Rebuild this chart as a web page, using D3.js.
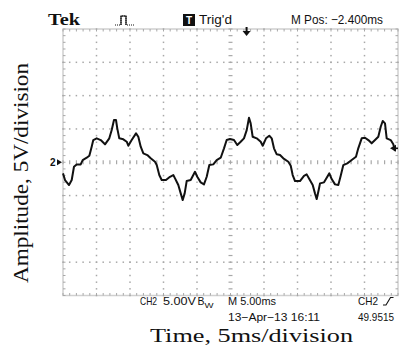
<!DOCTYPE html>
<html><head><meta charset="utf-8">
<script src="https://cdn.jsdelivr.net/npm/d3@7"></script>
<style>html,body{margin:0;padding:0;background:#fff;}svg{display:block;}</style>
</head><body>
<svg id="c" width="399" height="358"></svg>
<script>
// time in ms, amplitude in volts (5 V/div, 5 ms/div)
const timeMs = [0.00,0.30,0.90,1.30,1.64,2.04,2.64,2.94,3.54,3.93,4.28,4.52,5.03,5.63,6.27,6.91,7.27,7.61,7.91,8.10,8.40,9.00,9.51,9.75,10.25,10.90,11.24,11.60,11.99,12.58,13.09,13.73,13.99,14.37,14.73,15.37,15.97,16.46,16.72,16.97,17.21,17.57,17.87,18.16,18.46,19.06,19.45,19.70,20.04,20.55,21.04,21.45,21.84,22.43,22.94,23.54,24.03,24.43,24.93,25.52,26.01,26.52,27.01,27.42,27.76,28.01,28.31,28.91,29.51,29.81,30.30,30.79,31.15,31.49,31.90,32.39,32.88,33.63,33.99,34.28,34.63,35.37,35.97,36.37,36.76,37.27,37.61,37.87,38.16,38.36,38.96,39.36,39.75,40.10,40.60,41.09,41.45,41.84,42.43,43.09,43.73,44.07,44.58,45.07,45.57,46.07,46.57,47.06,47.42,47.72,48.06,48.31,48.91,49.30,49.55];
const voltsV = [-1.67,-2.67,-3.42,-2.67,-0.68,-0.32,-0.32,0.33,0.68,0.98,2.33,3.33,3.59,3.33,2.69,3.59,4.83,6.34,6.34,5.09,3.59,3.44,3.08,2.48,3.33,4.34,3.83,2.33,1.34,1.08,0.59,0.08,-0.42,-1.92,-2.67,-2.67,-2.18,-1.92,-2.42,-2.93,-3.42,-4.67,-5.68,-4.67,-2.82,-2.67,-1.92,-1.43,-2.18,-3.02,-3.32,-2.18,-0.42,-0.32,0.33,0.68,2.09,3.33,3.48,3.33,2.58,3.08,3.59,4.83,6.68,5.84,3.83,3.59,3.08,2.48,3.59,3.98,3.59,2.09,1.19,1.08,0.59,0.08,-0.53,-1.92,-2.82,-2.82,-2.03,-1.82,-2.52,-3.42,-4.67,-5.53,-4.17,-3.17,-3.02,-2.33,-1.67,-2.52,-3.32,-3.42,-2.03,-0.42,-0.17,0.33,0.83,2.09,3.59,3.68,3.33,2.84,3.33,3.83,5.33,6.19,5.84,3.59,3.33,2.69,1.68];
const timeDomain = [0, 50];
const voltDomain = [-20, 20];
const divMs = 5, divV = 5;
const headerTexts = {tek: "Tek", trig: "Trig'd", mpos: "M Pos: \u22122.400ms"};
const footerRow1 = {ch: "CH2", scale: "5.00V", mscale: "M 5.00ms", trigCh: "CH2"};
const footerRow2 = {date: "13\u2212Apr\u221213 16:11", freq: "49.9515"};
const xLabel = "Time, 5ms/division";
const yLabel = "Amplitude, 5V/division";

const svg = d3.select("#c");
const x = d3.scaleLinear().domain(timeDomain).range([63, 398]);
const y = d3.scaleLinear().domain(voltDomain).range([295.5, 29]);
const gridCol = "#a8a8a8";

// frame
svg.append("rect").attr("x", x(0)).attr("y", y(20)).attr("width", x(50)-x(0)).attr("height", y(-20)-y(20))
  .attr("fill","none").attr("stroke","#d0d0d0").attr("stroke-width",1.5);

const g = svg.append("g");
const majorT = d3.range(timeDomain[0], timeDomain[1]+0.001, divMs);
const majorV = d3.range(voltDomain[0], voltDomain[1]+0.001, divV);
const minorT = d3.range(timeDomain[0], timeDomain[1]+0.001, 1);
const minorV = d3.range(voltDomain[0], voltDomain[1]+0.001, 1);

// dots on horizontal grid lines
majorV.slice(1,-1).forEach(v => {
  if (v === 0) return;
  minorT.forEach(t => g.append("rect").attr("x", x(t)-0.75).attr("y", y(v)-0.75).attr("width",1.5).attr("height",1.5).attr("fill",gridCol));
});
// dots on vertical grid lines
majorT.slice(1,-1).forEach(t => {
  if (t === 25) return;
  minorV.forEach(v => g.append("rect").attr("x", x(t)-0.75).attr("y", y(v)-0.75).attr("width",1.5).attr("height",1.5).attr("fill",gridCol));
});
// center horizontal line: vertical ticks
minorT.forEach(t => g.append("line").attr("x1",x(t)).attr("x2",x(t)).attr("y1",y(0)-2).attr("y2",y(0)+2).attr("stroke",gridCol).attr("stroke-width",1.2));
// center vertical line: horizontal ticks
minorV.forEach(v => g.append("line").attr("x1",x(25)-2).attr("x2",x(25)+2).attr("y1",y(v)).attr("y2",y(v)).attr("stroke",gridCol).attr("stroke-width",1.2));
// frame ticks
minorT.forEach(t => {
  g.append("line").attr("x1",x(t)).attr("x2",x(t)).attr("y1",y(20)).attr("y2",y(20)+2.5).attr("stroke",gridCol).attr("stroke-width",1);
  g.append("line").attr("x1",x(t)).attr("x2",x(t)).attr("y1",y(-20)).attr("y2",y(-20)-2.5).attr("stroke",gridCol).attr("stroke-width",1);
});
minorV.forEach(v => {
  g.append("line").attr("x1",x(0)).attr("x2",x(0)+2.5).attr("y1",y(v)).attr("y2",y(v)).attr("stroke",gridCol).attr("stroke-width",1);
  g.append("line").attr("x1",x(50)).attr("x2",x(50)-2.5).attr("y1",y(v)).attr("y2",y(v)).attr("stroke",gridCol).attr("stroke-width",1);
});

// waveform
const pts = timeMs.map((t,i) => [t, voltsV[i]]);
svg.append("path").datum(pts)
  .attr("d", d3.line().x(d => x(d[0])).y(d => y(d[1])))
  .attr("fill","none").attr("stroke","#111").attr("stroke-width",2).attr("stroke-linejoin","round");

// markers
const mk = svg.append("g").attr("fill","#111");
const tx = x(27.4);
mk.append("rect").attr("x", tx-1).attr("y", y(20)-2).attr("width",2).attr("height",4);
mk.append("path").attr("d", `M${tx-4},${y(20)+2} L${tx+4},${y(20)+2} L${tx},${y(20)+7} Z`);
svg.append("text").attr("x", 50).attr("y", y(0)+3.5).attr("font-family","Liberation Sans, Arial, sans-serif").attr("font-size",10).attr("font-weight","bold").attr("fill","#111").text("2");
mk.append("path").attr("d", `M${x(0)-6},${y(0)-3} L${x(0)-1},${y(0)} L${x(0)-6},${y(0)+3} Z`);
mk.append("path").attr("d", `M${x(50)-8},${y(2.1)} L${x(50)-2},${y(2.1)-3.5} L${x(50)-2},${y(2.1)+3.5} Z`);
mk.append("rect").attr("x", x(50)-3).attr("y", y(2.1)-0.75).attr("width",3).attr("height",1.5);

// header
const sans = "Liberation Sans, Arial, sans-serif";
svg.append("text").attr("x",48).attr("y",25).attr("font-family","Liberation Serif, Times New Roman, serif").attr("font-weight","bold").attr("font-size",17).attr("textLength",32).attr("lengthAdjust","spacingAndGlyphs").attr("fill","#111").text(headerTexts.tek);
svg.append("path").attr("d","M115,25 h6 v-9 h5 v9 h8").attr("fill","none").attr("stroke","#111").attr("stroke-width",1).attr("stroke-dasharray","1 1");
svg.append("path").attr("d","M121,25 v-9 h5 v9").attr("fill","none").attr("stroke","#111").attr("stroke-width",1.2);
svg.append("rect").attr("x",183).attr("y",14).attr("width",12).attr("height",12).attr("fill","#111");
svg.append("text").attr("x",189).attr("y",24).attr("text-anchor","middle").attr("font-family",sans).attr("font-weight","bold").attr("font-size",10).attr("fill","#fff").text("T");
svg.append("text").attr("x",199).attr("y",24).attr("font-family",sans).attr("font-size",12.5).attr("textLength",33).attr("lengthAdjust","spacingAndGlyphs").attr("fill","#111").text(headerTexts.trig);
svg.append("text").attr("x",291).attr("y",24).attr("font-family",sans).attr("font-size",12.5).attr("textLength",92).attr("lengthAdjust","spacingAndGlyphs").attr("fill","#111").text(headerTexts.mpos);

// footer
function ft(txt, xx, yy, len, size) {
  return svg.append("text").attr("x",xx).attr("y",yy).attr("font-family",sans).attr("font-size",size||11).attr("textLength",len).attr("lengthAdjust","spacingAndGlyphs").attr("fill","#111").text(txt);
}
ft(footerRow1.ch, 140, 305, 17);
ft(footerRow1.scale, 163, 305, 33);
ft("B", 197.5, 305, 7);
ft("W", 204.5, 308, 9, 8);
ft(footerRow1.mscale, 228, 305, 48);
ft(footerRow1.trigCh, 358, 305, 20);
svg.append("path").attr("d","M383,305 h3 L390.5,297.5 h3").attr("fill","none").attr("stroke","#111").attr("stroke-width",1.1);
ft(footerRow2.date, 228, 320.5, 92);
ft(footerRow2.freq, 358, 320.5, 36);

// axis titles
svg.append("text").attr("x",150).attr("y",341.5).attr("font-family","Liberation Serif, Times New Roman, serif").attr("font-size",19.5).attr("textLength",203).attr("lengthAdjust","spacingAndGlyphs").attr("fill","#111").text(xLabel);
svg.append("text").attr("transform","translate(28,173) rotate(-90)").attr("text-anchor","middle").attr("font-family","Liberation Serif, Times New Roman, serif").attr("font-size",22).attr("textLength",220).attr("lengthAdjust","spacingAndGlyphs").attr("fill","#111").text(yLabel);
</script>
</body></html>
